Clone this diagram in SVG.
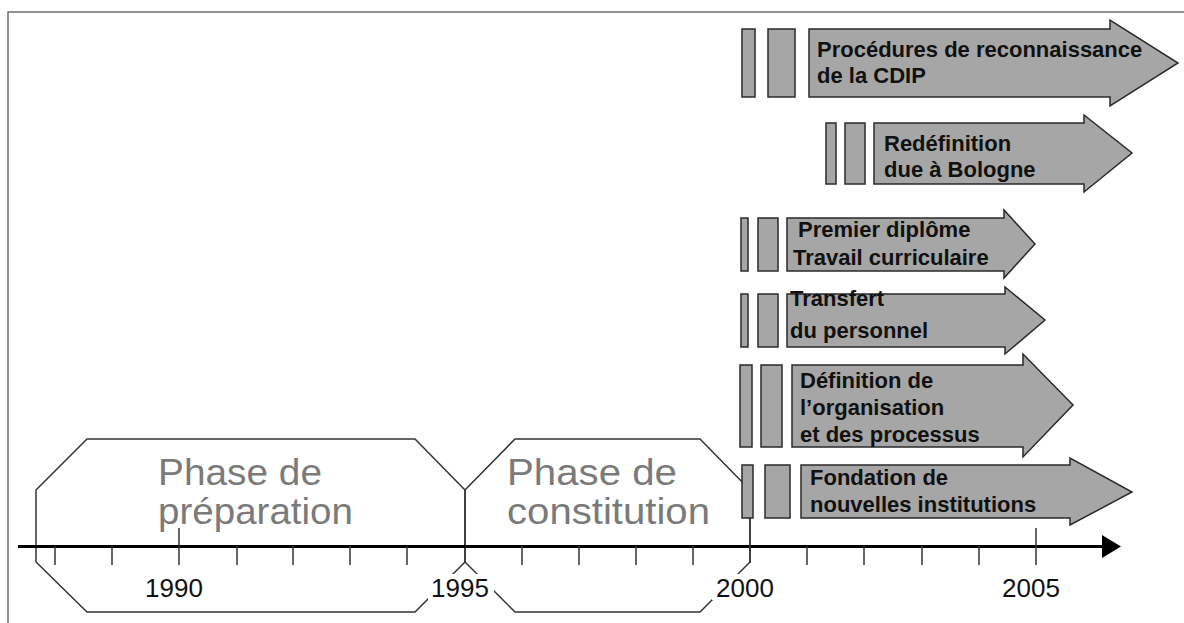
<svg xmlns="http://www.w3.org/2000/svg" width="1184" height="623" viewBox="0 0 1184 623">
<style>
.frame{fill:none;stroke:#6e6e6e;stroke-width:1.5}
.bar{fill:#a6a6a6;stroke:#2a2a2a;stroke-width:1.5}
.lbl{font-family:"Liberation Sans",Arial,sans-serif;font-weight:bold;font-size:22px;fill:#111}
.phase{fill:none;stroke:#333;stroke-width:1.5}
.ptxt{font-family:"Liberation Sans",Arial,sans-serif;font-size:36px;fill:#7a7a7a}
.tick{stroke:#333;stroke-width:1.5}
.year{font-family:"Liberation Sans",Arial,sans-serif;font-size:26px;fill:#111;text-anchor:middle}
</style>
<rect width="1184" height="623" fill="#fff"/>
<path class="frame" d="M8,623 V12 H1184"/>

<g id="phase-preparation">
<polygon class="phase" points="36,490 87,439 415,439 465,490 465,562 415,612 87,612 36,562"/>
<text class="ptxt" x="158" y="485" textLength="164" lengthAdjust="spacingAndGlyphs">Phase de</text>
<text class="ptxt" x="158" y="524" textLength="195" lengthAdjust="spacingAndGlyphs">préparation</text>
</g>
<g id="phase-constitution">
<polygon class="phase" points="465,490 515,439 700,439 750,490 750,562 700,612 515,612 465,562"/>
<text class="ptxt" x="507" y="485" textLength="170" lengthAdjust="spacingAndGlyphs">Phase de</text>
<text class="ptxt" x="507" y="524" textLength="203" lengthAdjust="spacingAndGlyphs">constitution</text>
</g>

<g id="axis">
<line x1="18" y1="546.5" x2="1104" y2="546.5" stroke="#000" stroke-width="3"/>
<polygon points="1102,535 1121,546.5 1102,558" fill="#000"/>
<g class="tick">
<line x1="55" y1="546" x2="55" y2="565"/>
<line x1="112" y1="546" x2="112" y2="565"/>
<line x1="179" y1="528" x2="179" y2="565"/>
<line x1="237" y1="546" x2="237" y2="565"/>
<line x1="293" y1="546" x2="293" y2="565"/>
<line x1="350" y1="546" x2="350" y2="565"/>
<line x1="407" y1="546" x2="407" y2="565"/>
<line x1="522" y1="546" x2="522" y2="565"/>
<line x1="579" y1="546" x2="579" y2="565"/>
<line x1="636" y1="546" x2="636" y2="565"/>
<line x1="693" y1="546" x2="693" y2="565"/>
<line x1="750" y1="518" x2="750" y2="563"/>
<line x1="807" y1="546" x2="807" y2="565"/>
<line x1="864" y1="546" x2="864" y2="565"/>
<line x1="922" y1="546" x2="922" y2="565"/>
<line x1="979" y1="546" x2="979" y2="565"/>
<line x1="1036" y1="528" x2="1036" y2="565"/>
</g>
<rect x="141" y="574" width="68" height="27" fill="#fff"/>
<rect x="428" y="574" width="66" height="26" fill="#fff"/>
<rect x="712" y="574" width="66" height="26" fill="#fff"/>
<text class="year" x="174" y="597">1990</text>
<text class="year" x="460" y="597">1995</text>
<text class="year" x="745" y="597">2000</text>
<text class="year" x="1031" y="597">2005</text>
</g>

<g id="reconnaissance">
<rect class="bar" x="742" y="29" width="13" height="68"/>
<rect class="bar" x="768" y="29" width="27" height="68"/>
<polygon class="bar" points="809,29 1110,29 1110,20 1178,63 1110,106 1110,97 809,97"/>
<text class="lbl" x="817" y="57">Procédures de reconnaissance</text>
<text class="lbl" x="817" y="83">de la CDIP</text>
</g>

<g id="bologne">
<rect class="bar" x="826" y="123" width="10" height="61"/>
<rect class="bar" x="845" y="123" width="20" height="61"/>
<polygon class="bar" points="874,123 1084,123 1084,115 1132,153 1084,192 1084,184 874,184"/>
<text class="lbl" x="884" y="151">Redéfinition</text>
<text class="lbl" x="884" y="177">due à Bologne</text>
</g>

<g id="diplome">
<rect class="bar" x="741" y="218" width="7" height="53"/>
<rect class="bar" x="758" y="218" width="20" height="53"/>
<polygon class="bar" points="787,218 1004,218 1004,210 1035,244 1004,278 1004,271 787,271"/>
<text class="lbl" x="798" y="237">Premier diplôme</text>
<text class="lbl" x="793" y="265">Travail curriculaire</text>
</g>

<g id="transfert">
<rect class="bar" x="741" y="294" width="7" height="53"/>
<rect class="bar" x="758" y="294" width="20" height="53"/>
<polygon class="bar" points="787,294 1005,294 1005,287 1045,320 1005,354 1005,347 787,347"/>
<text class="lbl" x="790" y="306">Transfert</text>
<text class="lbl" x="790" y="338">du personnel</text>
</g>

<g id="organisation">
<rect class="bar" x="740" y="365" width="12" height="82"/>
<rect class="bar" x="761" y="365" width="21" height="82"/>
<polygon class="bar" points="792,365 1023,365 1023,354 1073,405 1023,457 1023,447 792,447"/>
<text class="lbl" x="800" y="388">Définition de</text>
<text class="lbl" x="800" y="415">l’organisation</text>
<text class="lbl" x="800" y="442">et des processus</text>
</g>

<g id="fondation">
<rect class="bar" x="742" y="465" width="11" height="53"/>
<rect class="bar" x="765" y="465" width="25" height="53"/>
<polygon class="bar" points="801,465 1070,465 1070,458 1132,492 1070,525 1070,518 801,518"/>
<text class="lbl" x="810" y="485">Fondation de</text>
<text class="lbl" x="810" y="512">nouvelles institutions</text>
</g>
</svg>
